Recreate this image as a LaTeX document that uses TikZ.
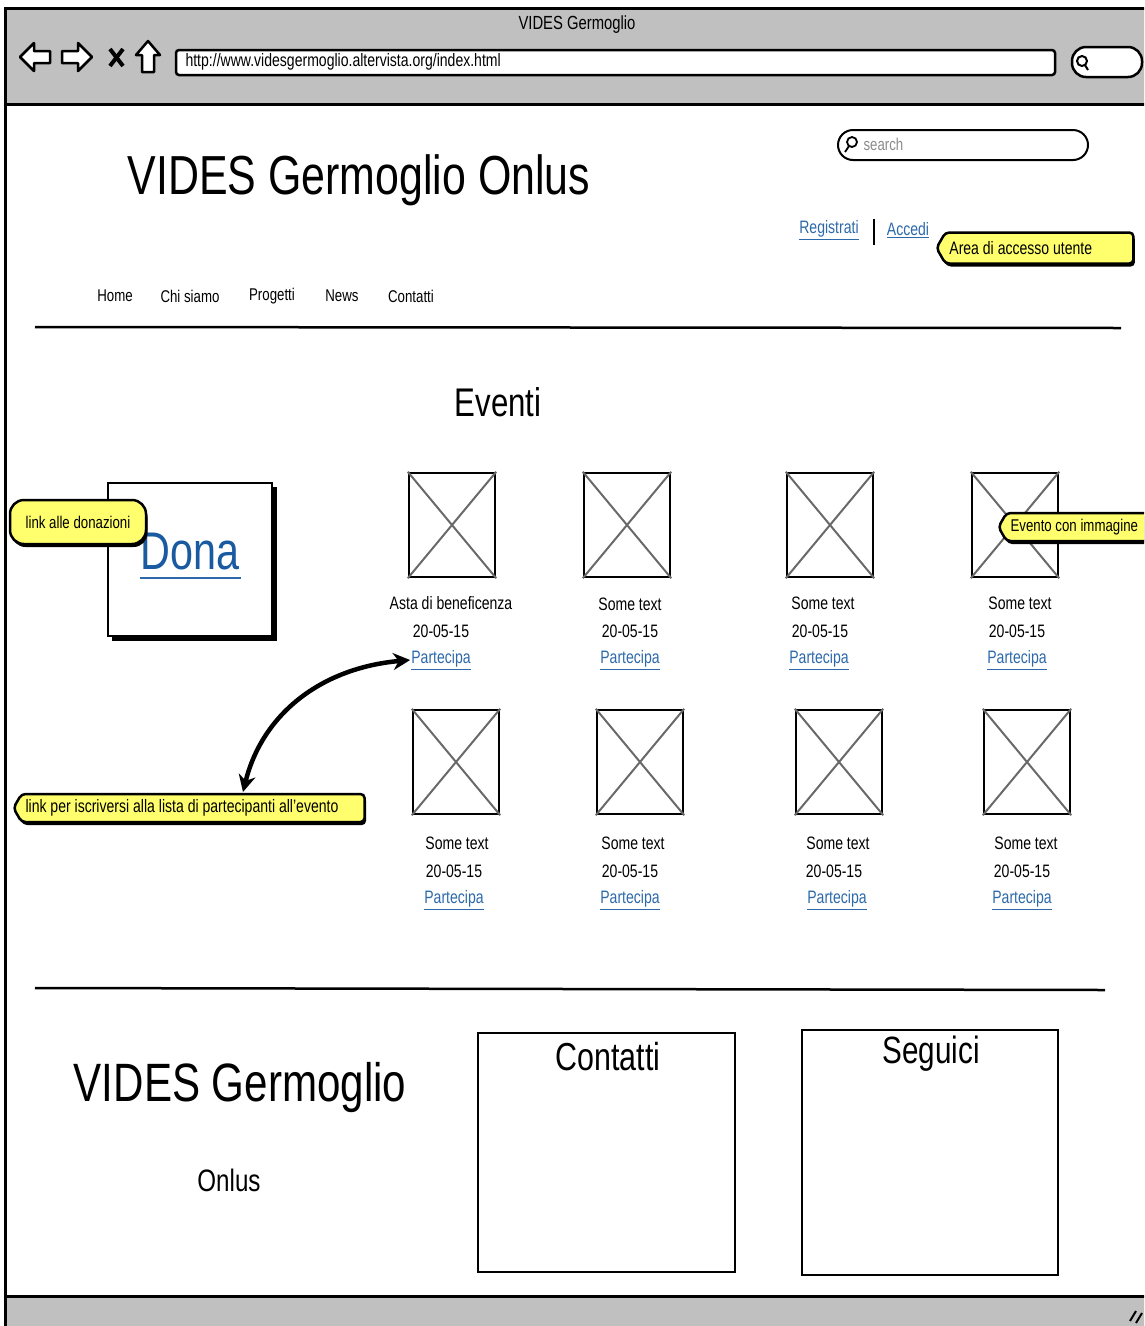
\documentclass[tikz,border=0pt]{standalone}
\usepackage{fontspec}
\setmainfont{Liberation Sans}[FakeStretch=0.78]
\usetikzlibrary{shapes.symbols,arrows.meta,shadows}

\definecolor{barGray}{RGB}{192,192,192}
\definecolor{linkBlue}{RGB}{45,105,170}
\definecolor{donaBlue}{RGB}{25,90,160}
\definecolor{noteYellow}{RGB}{255,255,110}
\definecolor{crossGray}{RGB}{105,105,105}
\definecolor{hintGray}{RGB}{140,140,140}

\newcommand{\fsz}[1]{\fontsize{#1}{#1}\selectfont}

\tikzset{
  imgbox/.style={draw, line width=2.5pt, minimum width=86pt, minimum height=104pt, inner sep=0pt},
  imgcross/.style={draw=crossGray, line width=2pt},
  evtext/.style={font=\fsz{18}, inner sep=1pt},
  evlink/.style={font=\fsz{18}, text=linkBlue, inner sep=1pt},
  navitem/.style={font=\fsz{17}, inner sep=1pt},
  calloutbox/.style={draw, line width=2.5pt, fill=noteYellow, font=\fsz{18}, inner sep=4pt,
    drop shadow={shadow xshift=1.5pt, shadow yshift=-3pt, fill=black, opacity=1}},
  callouttag/.style={calloutbox, shape=signal, signal to=west, signal pointer angle=120, rounded corners=4pt, align=flush left},
  footbox/.style={draw, line width=2.5pt, inner sep=0pt},
}

\begin{document}
\begin{tikzpicture}[x=1pt,y=1pt,yscale=-1,xscale=1]

\useasboundingbox (0,0) rectangle (1144,1326);
\clip (0,0) rectangle (1144,1326);

% browser window
\draw [fill=barGray, line width=3pt] (5,8) rectangle (1160,104);
\draw [fill=barGray, line width=3pt] (5,1296) rectangle (1160,1345);
\draw [line width=3pt] (5,104) -- (5,1296);
\draw (577,25) node (wintitle) {\fsz{19}VIDES Germoglio};

% toolbar
\draw [fill=white, line width=2.5pt, line join=round] (20,57) -- (34,43) -- (34,51) -- (50,51) -- (50,63) -- (34,63) -- (34,71) -- cycle;
\draw [fill=white, line width=2.5pt, line join=round] (92,57) -- (78,43) -- (78,51) -- (62,51) -- (62,63) -- (78,63) -- (78,71) -- cycle;
\draw [line width=4pt] (110,49) -- (123,66) (123,49) -- (110,66);
\draw [fill=white, line width=2.5pt, line join=round] (148,41) -- (160,55) -- (154,55) -- (154,72) -- (142,72) -- (142,55) -- (136,55) -- cycle;
\draw [fill=white, line width=2.5pt, rounded corners=3pt] (176,50) rectangle (1055,75);
\draw (182,62) node [anchor=west, font=\fsz{18}] (url) {http://www.videsgermoglio.altervista.org/index.html};
\draw [fill=white, line width=2.5pt, rounded corners=14pt] (1072,47) rectangle (1142,77);
\draw [line width=2pt] (1082,61) circle (5) (1085,65) -- (1088,70);

% header
\draw [fill=white, line width=2pt, rounded corners=15pt] (838,130) rectangle (1088,160);
\draw [line width=1.8pt] (852,142) circle (5) (849,146) -- (845,152);
\draw (860,144) node [anchor=west, font=\fsz{17}, text=hintGray] (search) {search};
\draw (359,180) node (title) {\fsz{55}VIDES Germoglio Onlus};
\draw (829,230) node [evlink] (reg) {\underline{Registrati}};
\draw [line width=2pt] (874,219) -- (874,245);
\draw (908,230) node [evlink] (login) {\underline{Accedi}};
\draw (935,248) node [callouttag, anchor=west, text width=180pt, minimum height=31pt] (notearea) {Area di accesso utente};

% menu
\draw (115,296) node [navitem] (navhome) {Home};
\draw (190,296) node [navitem] (navchi) {Chi siamo};
\draw (272,296) node [navitem] (navprog) {Progetti};
\draw (342,296) node [navitem] (navnews) {News};
\draw (411,296) node [navitem] (navcont) {Contatti};
\draw [line width=2.5pt] (35,327) -- (1121,328);

\draw (498,402) node (eventi) {\fsz{40}Eventi};

% dona
\fill (112,487) rectangle (277,641);
\draw [fill=white, line width=2pt] (108,483) rectangle (272,636);
\draw (190,552) node [text=donaBlue, font=\fsz{53}] (dona) {Dona};
\draw [color=linkBlue, line width=2pt] (140,578) -- (241,578);
\draw (78,522) node [calloutbox, rounded corners=14pt, minimum width=136pt, minimum height=44pt, font=\fsz{17}] (notedona) {link alle donazioni};

% eventi, prima riga
\draw (452,525) node [imgbox] (img11) {};
\draw (627,525) node [imgbox] (img12) {};
\draw (830,525) node [imgbox] (img13) {};
\draw (1015,525) node [imgbox] (img14) {};
\draw [imgcross] (img11.north west) -- (img11.south east) (img11.north east) -- (img11.south west);
\draw [imgcross] (img12.north west) -- (img12.south east) (img12.north east) -- (img12.south west);
\draw [imgcross] (img13.north west) -- (img13.south east) (img13.north east) -- (img13.south west);
\draw [imgcross] (img14.north west) -- (img14.south east) (img14.north east) -- (img14.south west);

\draw (451,603) node [evtext] (txt11) {Asta di beneficenza};
\draw (441,631) node [evtext] (date11) {20-05-15};
\draw (441,660) node [evlink] (part11) {\underline{Partecipa}};
\draw (630,604) node [evtext] (txt12) {Some text};
\draw (630,631) node [evtext] (date12) {20-05-15};
\draw (630,660) node [evlink] (part12) {\underline{Partecipa}};
\draw (823,603) node [evtext] (txt13) {Some text};
\draw (820,631) node [evtext] (date13) {20-05-15};
\draw (819,660) node [evlink] (part13) {\underline{Partecipa}};
\draw (1020,603) node [evtext] (txt14) {Some text};
\draw (1017,631) node [evtext] (date14) {20-05-15};
\draw (1017,660) node [evlink] (part14) {\underline{Partecipa}};

\draw (997,527) node [callouttag, anchor=west, text width=150pt, minimum height=28pt, font=\fsz{17}] (noteimg) {Evento con immagine};

% eventi, seconda riga
\draw (456,762) node [imgbox] (img21) {};
\draw (640,762) node [imgbox] (img22) {};
\draw (839,762) node [imgbox] (img23) {};
\draw (1027,762) node [imgbox] (img24) {};
\draw [imgcross] (img21.north west) -- (img21.south east) (img21.north east) -- (img21.south west);
\draw [imgcross] (img22.north west) -- (img22.south east) (img22.north east) -- (img22.south west);
\draw [imgcross] (img23.north west) -- (img23.south east) (img23.north east) -- (img23.south west);
\draw [imgcross] (img24.north west) -- (img24.south east) (img24.north east) -- (img24.south west);

\draw (457,843) node [evtext] (txt21) {Some text};
\draw (454,871) node [evtext] (date21) {20-05-15};
\draw (454,900) node [evlink] (part21) {\underline{Partecipa}};
\draw (633,843) node [evtext] (txt22) {Some text};
\draw (630,871) node [evtext] (date22) {20-05-15};
\draw (630,900) node [evlink] (part22) {\underline{Partecipa}};
\draw (838,843) node [evtext] (txt23) {Some text};
\draw (834,871) node [evtext] (date23) {20-05-15};
\draw (837,900) node [evlink] (part23) {\underline{Partecipa}};
\draw (1026,843) node [evtext] (txt24) {Some text};
\draw (1022,871) node [evtext] (date24) {20-05-15};
\draw (1022,900) node [evlink] (part24) {\underline{Partecipa}};

\draw (12,808) node [callouttag, anchor=west, text width=335pt, minimum height=28pt] (notepart) {link per iscriversi alla lista di partecipanti all'evento};
\coordinate (arrowfoot) at (243,792);
\draw [line width=4.5pt, {Stealth[length=17pt,width=17pt]}-{Stealth[length=17pt,width=17pt]}] (arrowfoot) .. controls (262,715) and (320,668) .. (part11.west);

% footer
\draw [line width=2.5pt] (35,988) -- (1105,990);
\draw (240,1088) node (foottitle) {\fsz{54}VIDES Germoglio};
\draw (229,1180) node (footonlus) {\fsz{31}Onlus};
\draw (606.5,1152.5) node [footbox, minimum width=257pt, minimum height=239pt] (contbox) {};
\draw (608,1057) node (conttitle) {\fsz{39}Contatti};
\draw (930,1152.5) node [footbox, minimum width=256pt, minimum height=245pt] (segbox) {};
\draw (931,1054) node (segtitle) {\fsz{38}Seguici};

%\draw [color=red] (0,0) rectangle (1144,1326);
\draw [line width=2pt] (1130,1321) -- (1136,1311) (1136,1323) -- (1142,1313);

\end{tikzpicture}
\end{document}
